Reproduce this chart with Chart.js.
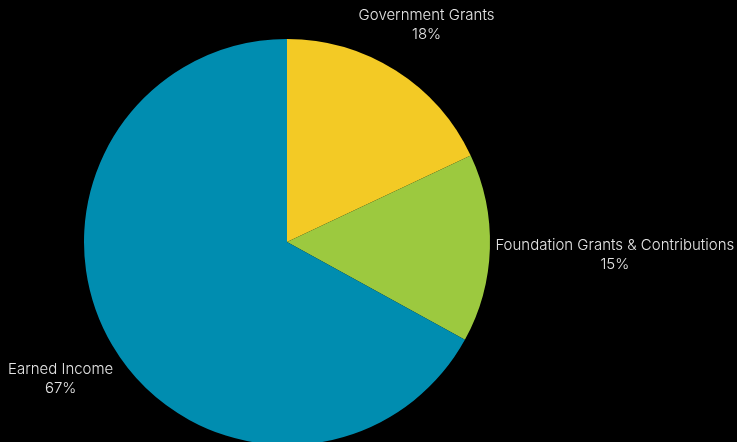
<!DOCTYPE html>
<html>
<head>
<meta charset="utf-8">
<script src="https://cdn.jsdelivr.net/npm/chart.js@4"></script>
<style>
  html, body { margin: 0; padding: 0; background: #000; overflow: hidden; }
  #wrap { position: absolute; left: 0; top: 0; width: 737px; height: 490px; }
</style>
</head>
<body>
<div id="wrap"><canvas id="myChart"></canvas></div>
<script>
const categories = ['Government Grants', 'Foundation Grants & Contributions', 'Earned Income'];
const shares = [18, 15, 67];
const sliceColors = ['#F3CA25', '#9CC93F', '#008DB0'];

const outsideLabels = {
  id: 'outsideLabels',
  afterDraw(chart) {
    const ctx = chart.ctx;
    const meta = chart.getDatasetMeta(0);
    const total = shares.reduce((a, b) => a + b, 0);
    ctx.save();
    ctx.font = '300 15px Inter, "Noto Sans", sans-serif';
    ctx.fillStyle = '#e4e4e4';
    ctx.textAlign = 'center';
    ctx.textBaseline = 'middle';
    const lineH = 19;
    meta.data.forEach((arc, i) => {
      const p = arc.getProps(['x', 'y', 'startAngle', 'endAngle', 'outerRadius'], true);
      const mid = (p.startAngle + p.endAngle) / 2;
      const dx = Math.cos(mid), dy = Math.sin(mid);
      const lines = [categories[i], Math.round(shares[i] / total * 100) + '%'];
      const w = Math.max(...lines.map(l => ctx.measureText(l).width));
      const h = lines.length * lineH;
      const r = p.outerRadius + 5;
      const ax = p.x + dx * r, ay = p.y + dy * r;
      const push = (w / 2) * Math.abs(dx) + (h / 2) * Math.abs(dy);
      const cx = ax + dx * push, cy = ay + dy * push + 3;
      lines.forEach((l, k) => {
        ctx.fillText(l, cx, cy - h / 2 + lineH / 2 + k * lineH);
      });
    });
    ctx.restore();
  }
};

new Chart(document.querySelector('#myChart'), {
  type: 'pie',
  data: {
    labels: categories,
    datasets: [{
      data: shares,
      backgroundColor: sliceColors,
      borderWidth: 0
    }]
  },
  options: {
    responsive: true,
    maintainAspectRatio: false,
    animation: false,
    layout: { padding: { top: 39, bottom: 45, left: 84, right: 247 } },
    plugins: {
      legend: { display: false },
      tooltip: { enabled: false }
    }
  },
  plugins: [outsideLabels]
});
</script>
</body>
</html>
